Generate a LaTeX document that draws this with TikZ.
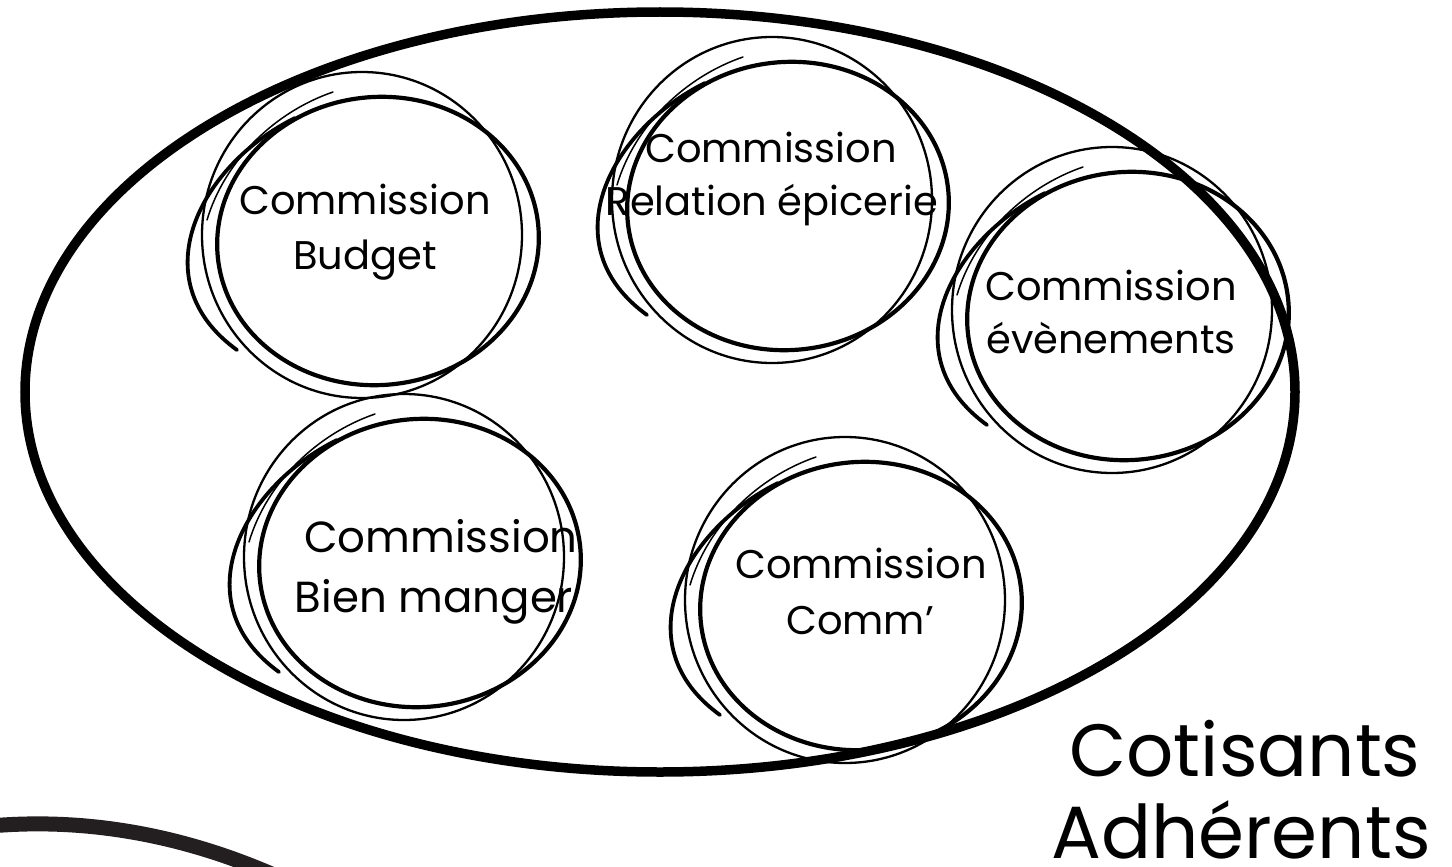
\documentclass[tikz,border=0pt]{standalone}
\usepackage{fontspec}
\setmainfont{Poppins}
\begin{document}
\begin{tikzpicture}[x=1pt,y=-1pt,
  lbl/.style={anchor=base, inner sep=0pt, font=\fontsize{40}{48}\selectfont},
  lblbig/.style={anchor=base, inner sep=0pt, font=\fontsize{43.5}{52}\selectfont},
  title/.style={anchor=base, inner sep=0pt, font=\fontsize{74}{88}\selectfont},
  scribble/.pic={
    % main loop
    \draw[line width=4.2pt, rotate around={6:(13,1)}] (13,1) ellipse [x radius=161, y radius=144];
    % second, lighter loop
    \draw[line width=2.3pt] (-3,-5) ellipse [x radius=160, y radius=163];
    % outer stroke ending on the left
    \draw[line width=3.8pt, line cap=round] (-70,-122) .. controls (-165,-75) and (-225,40) .. (-128,110);
    % thin starting stroke
    \draw[line width=1.5pt, line cap=round] (-32,-148) .. controls (-90,-128) and (-140,-80) .. (-158,-20);
  }]
\definecolor{inkgray}{HTML}{231F20}
\useasboundingbox (0,0) rectangle (1452,867);
\fill[white] (0,0) rectangle (1452,867);

% the members' enclosure
\draw[line width=9.5pt] (660,392) ellipse [x radius=635, y radius=380];

% partial ring at the lower left
\draw[line width=15pt, inkgray] (-10,826) .. controls (80,818) and (180,832) .. (285,880);

% commissions
\pic (ringbudget) at (365,240) {scribble};
\pic (ringrelation) at (775,205) {scribble};
\pic (ringevents) at (1115,315) {scribble};
\pic (ringfood) at (407,562) {scribble};
\pic (ringcomm) at (848,605) {scribble};

\node[lbl] (budget1) at (365,214) {Commission};
\node[lbl] (budget2) at (365,269) {Budget};
\node[lbl] (relation1) at (771,162) {Commission};
\node[lbl] (relation2) at (772,215) {Relation épicerie};
\node[lbl] (events1) at (1111,300) {Commission};
\node[lbl] (events2) at (1111,353) {évènements};
\node[lblbig] (food1) at (441,552) {Commission};
\node[lblbig] (food2) at (434,612) {Bien manger};
\node[lbl] (comm1) at (861,578) {Commission};
\node[lbl] (comm2) at (860,634) {Comm’};

% members
\node[title] (members1) at (1245,776) {Cotisants};
\node[title] (members2) at (1241,858) {Adhérents};
\end{tikzpicture}
\end{document}
